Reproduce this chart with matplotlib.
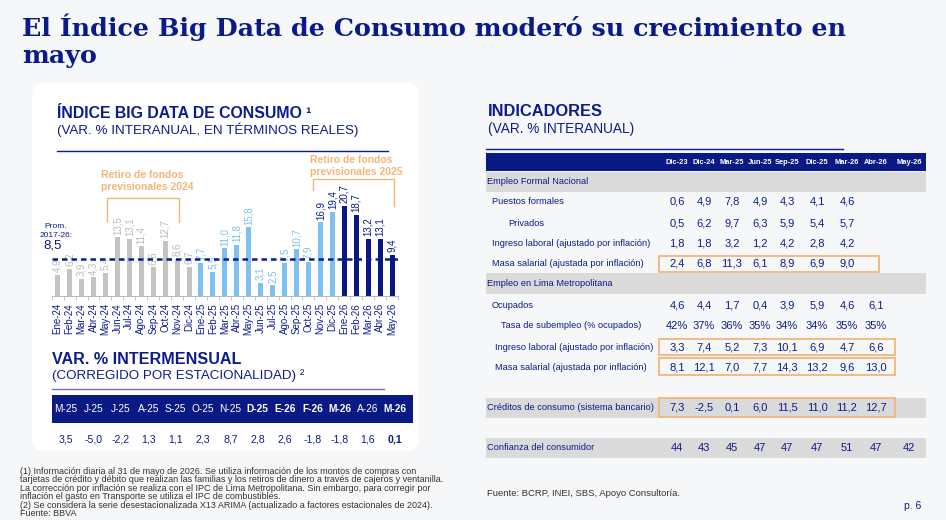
import matplotlib
matplotlib.use("Agg")
import matplotlib.pyplot as plt
from matplotlib.patches import Rectangle, FancyBboxPatch

# ===== datos =====
meses = ["Ene-24", "Feb-24", "Mar-24", "Abr-24", "May-24", "Jun-24", "Jul-24", "Ago-24",
         "Sep-24", "Oct-24", "Nov-24", "Dic-24", "Ene-25", "Feb-25", "Mar-25", "Abr-25",
         "May-25", "Jun-25", "Jul-25", "Ago-25", "Sep-25", "Oct-25", "Nov-25", "Dic-25",
         "Ene-26", "Feb-26", "Mar-26", "Abr-26", "May-26"]
indice = [4.9, 6.2, 3.9, 4.3, 5.4, 13.5, 13.1, 11.4, 6.6, 12.7, 8.6, 6.7,
          7.7, 5.5, 11.0, 11.8, 15.8, 3.1, 2.5, 7.5, 10.7, 7.9, 16.9, 19.4,
          20.7, 18.7, 13.2, 13.1, 9.4]
grupo = ["2024"] * 12 + ["2025"] * 12 + ["2026"] * 5
etiqueta_navy = ["Nov-25", "Dic-25"]
promedio = 8.5

mm_meses = ["M-25", "J-25", "J-25", "A-25", "S-25", "O-25", "N-25", "D-25", "E-26",
            "F-26", "M-26", "A-26", "M-26"]
mm_bold = [False] * 7 + [True, True, True, True, False, True]
mm_valores = [3.5, -5.0, -2.2, 1.3, 1.1, 2.3, 8.7, 2.8, 2.6, -1.8, -1.8, 1.6, 0.1]

cols = ["Dic-23", "Dic-24", "Mar-25", "Jun-25", "Sep-25", "Dic-25", "Mar-26", "Abr-26", "May-26"]
puestos = [0.6, 4.9, 7.8, 4.9, 4.3, 4.1, 4.6]
privados = [0.5, 6.2, 9.7, 6.3, 5.9, 5.4, 5.7]
ingreso_nac = [1.8, 1.8, 3.2, 1.2, 4.2, 2.8, 4.2]
masa_nac = [2.4, 6.8, 11.3, 6.1, 8.9, 6.9, 9.0]
ocupados = [4.6, 4.4, 1.7, 0.4, 3.9, 5.9, 4.6, 6.1]
subempleo = [42, 37, 36, 35, 34, 34, 35, 35]
ingreso_lima = [3.3, 7.4, 5.2, 7.3, 10.1, 6.9, 4.7, 6.6]
masa_lima = [8.1, 12.1, 7.0, 7.7, 14.3, 13.2, 9.6, 13.0]
creditos = [7.3, -2.5, 0.1, 6.0, 11.5, 11.0, 11.2, 12.7]
confianza = [44, 43, 45, 47, 47, 47, 51, 47, 42]

# ===== estilo =====
plt.rcParams["font.family"] = ["Liberation Sans", "DejaVu Sans"]
NAVY = "#0c1c8c"
BAND = "#0a1a84"
GRIS = "#c4c4c4"
CELESTE = "#7ec0ef"
OSCURO = "#0b1780"
NARANJA = "#f4b57a"
BG = "#f6f7f8"
W, H = 946, 520

def coma(v, d=1):
    return f"{v:.{d}f}".replace(".", ",")

fig = plt.figure(figsize=(W / 100, H / 100), dpi=100, facecolor=BG)
bg = fig.add_axes([0, 0, 1, 1], zorder=0)
bg.set_xlim(0, W); bg.set_ylim(H, 0); bg.axis("off")

# título
bg.text(22, 36, "El Índice Big Data de Consumo moderó su crecimiento en", family="DejaVu Serif",
        fontweight="bold", fontsize=18.3, color="#0a1a8a", va="baseline")
bg.text(22, 63, "mayo", family="DejaVu Serif", fontweight="bold", fontsize=18.3,
        color="#0a1a8a", va="baseline")

# tarjeta blanca
bg.add_patch(FancyBboxPatch((32, 83), 387, 368, boxstyle="round,pad=0,rounding_size=12",
                            facecolor="white", edgecolor="none"))

bg.text(57, 113, "ÍNDICE BIG DATA DE CONSUMO ¹", fontsize=11.4, fontweight="bold", color=NAVY, va="center")
bg.text(57, 130, "(VAR. % INTERANUAL, EN TÉRMINOS REALES)", fontsize=9.6, color=NAVY, va="center")
bg.plot([57, 388], [151, 151], color=NAVY, lw=1)

# ===== gráfico de barras =====
x0, paso, base, ppu = 57.7, 11.94, 296, 4.35
ax_top = 150
ax = fig.add_axes([(x0 - paso / 2) / W, 1 - base / H, 29 * paso / W, (base - ax_top) / H], zorder=2)
ax.set_facecolor("none")
ax.set_xlim(-0.5, len(meses) - 0.5)
ax.set_ylim(0, (base - ax_top) / ppu)
color_barra = {"2024": GRIS, "2025": CELESTE, "2026": OSCURO}
color_etq = {"2024": "#bcbcbc", "2025": CELESTE, "2026": OSCURO}
xs = range(len(meses))
ax.bar(xs, indice, width=0.42, color=[color_barra[g] for g in grupo], zorder=2)
for i, (m, v, g) in enumerate(zip(meses, indice, grupo)):
    c = NAVY if m in etiqueta_navy else color_etq[g]
    ax.text(i, v + 0.6, coma(v), rotation=90, ha="center", va="bottom", fontsize=7, color=c)
ax.axhline(promedio, color=NAVY, lw=1.8, ls=(0, (2.2, 1.6)), zorder=3)
ax.set_xticks(list(xs))
ax.set_xticklabels(meses, rotation=90, fontsize=7, color=NAVY)
ax.set_xticks([i + 0.5 for i in range(-1, len(meses))], minor=True)
ax.tick_params(axis="x", which="major", length=0, pad=5)
ax.tick_params(axis="x", which="minor", length=3, color="#bbbbbb")
ax.set_yticks([])
for s in ["top", "left", "right"]:
    ax.spines[s].set_visible(False)
ax.spines["bottom"].set_color("#bbbbbb")

# retiros de fondos
def corchete(a, b, y_top, y_a, y_b):
    ax.plot([a, a, b, b], [y_a, y_top, y_top, y_b], color=NARANJA, lw=1, clip_on=False)

def py(y):
    return (base - y) / ppu

corchete(4.1, 10.2, py(198), py(221), py(222))
ax.text(3.6, py(190), "Retiro de fondos\nprevisionales 2024", fontsize=7.5, fontweight="bold",
        color=NARANJA, va="baseline", linespacing=1.25)
corchete(21.4, 28.2, py(179), py(190), py(206))
ax.text(21.1, py(175), "Retiro de fondos\nprevisionales 2025", fontsize=7.5, fontweight="bold",
        color=NARANJA, va="baseline", linespacing=1.25, ha="left")

bg.text(56, 231, "Prom.\n2017-26:", fontsize=6, color=NAVY, ha="center", va="center", linespacing=1.5)
bg.text(53, 245, coma(promedio), fontsize=9.5, color=NAVY, ha="center", va="center")

# ===== variación intermensual =====
bg.text(52, 360, "VAR. % INTERMENSUAL", fontsize=11.6, fontweight="bold", color=NAVY, va="center")
bg.text(52, 376, "(CORREGIDO POR ESTACIONALIDAD) ²", fontsize=9.6, color=NAVY, va="center")
bg.plot([52, 384], [389, 389], color="#6a74b8", lw=1)
bg.add_patch(Rectangle((52, 395), 361, 28, facecolor=BAND, edgecolor="none"))
for i, (m, b, v) in enumerate(zip(mm_meses, mm_bold, mm_valores)):
    xc = 66 + i * 27.4
    bg.text(xc, 409, m, fontsize=7.3, color="white", ha="center", va="center",
            fontweight="bold" if b else "normal")
    bg.text(xc, 439, coma(v), fontsize=7.6, color=NAVY, ha="center", va="center",
            fontweight="bold" if i == len(mm_valores) - 1 else "normal")

# ===== indicadores =====
bg.text(488, 112, "INDICADORES", fontsize=11.8, fontweight="bold", color=NAVY, va="center")
bg.text(488, 129, "(VAR. % INTERANUAL)", fontsize=9.8, color=NAVY, va="center")
bg.plot([486, 843], [149, 149], color=NAVY, lw=1)
TX0, TX1 = 486, 926
bg.add_patch(Rectangle((TX0, 153), TX1 - TX0, 18, facecolor=BAND, edgecolor="none"))
col_x = [677, 704, 732, 760, 787, 817, 847, 876, 909]
for c, xc in zip(cols, col_x):
    bg.text(xc, 162, c, fontsize=5.4, fontweight="bold", color="white", ha="center", va="center")

def banda(y0, y1):
    bg.add_patch(Rectangle((TX0, y0), TX1 - TX0, y1 - y0, facecolor="#dadada", edgecolor="none"))

def caja(y0, y1, x1):
    bg.add_patch(Rectangle((659, y0), x1 - 659, y1 - y0, facecolor="none",
                           edgecolor=NARANJA, lw=1.3, zorder=3))

def fila(y, etiqueta, xl, valores, fmt=coma):
    bg.text(xl, y, etiqueta, fontsize=6.7, color=NAVY, va="center")
    for v, xc in zip(valores, col_x):
        bg.text(xc, y, fmt(v), fontsize=8, color=NAVY, ha="center", va="center")

banda(172, 192)
bg.text(487, 182, "Empleo Formal Nacional", fontsize=6.7, color=NAVY, va="center")
fila(202, "Puestos formales", 492, puestos)
fila(223, "Privados", 508, privados)
fila(243, "Ingreso laboral (ajustado por inflación)", 492, ingreso_nac)
fila(264, "Masa salarial (ajustada por inflación)", 492, masa_nac)
caja(256, 272, 879)

banda(273, 294)
bg.text(487, 284, "Empleo en Lima Metropolitana", fontsize=6.7, color=NAVY, va="center")
fila(305, "Ocupados", 492, ocupados)
fila(326, "Tasa de subempleo (% ocupados)", 501, subempleo, fmt=lambda v: f"{v}%")
fila(347, "Ingreso laboral (ajustado por inflación)", 495, ingreso_lima)
caja(339, 355, 895)
fila(367, "Masa salarial (ajustada por inflación)", 495, masa_lima)
caja(358, 375, 895)

banda(398, 418)
fila(408, "Créditos de consumo (sistema bancario)", 487, creditos)
caja(398, 417, 895)

banda(438, 458)
fila(448, "Confianza del consumidor", 487, confianza, fmt=lambda v: f"{v}")

# ===== notas =====
nota = ("(1) Información diaria al 31 de mayo de 2026. Se utiliza información de los montos de compras con\n"
        "tarjetas de crédito y débito que realizan las familias y los retiros de dinero a través de cajeros y ventanilla.\n"
        "La corrección por inflación se realiza con el IPC de Lima Metropolitana. Sin embargo, para corregir por\n"
        "inflación el gasto en Transporte se utiliza el IPC de combustibles.\n"
        "(2) Se considera la serie desestacionalizada X13 ARIMA (actualizado a factores estacionales de 2024).\n"
        "Fuente: BBVA")
bg.text(20, 467, nota, fontsize=6.5, color="#333333", va="top", linespacing=0.92)
bg.text(487, 494, "Fuente: BCRP, INEI, SBS, Apoyo Consultoría.", fontsize=6.8, color="#333333", va="center")
bg.text(904, 506, "p. 6", fontsize=7.5, color=NAVY, va="center")

fig.savefig("out.png", dpi=100, facecolor=BG)
